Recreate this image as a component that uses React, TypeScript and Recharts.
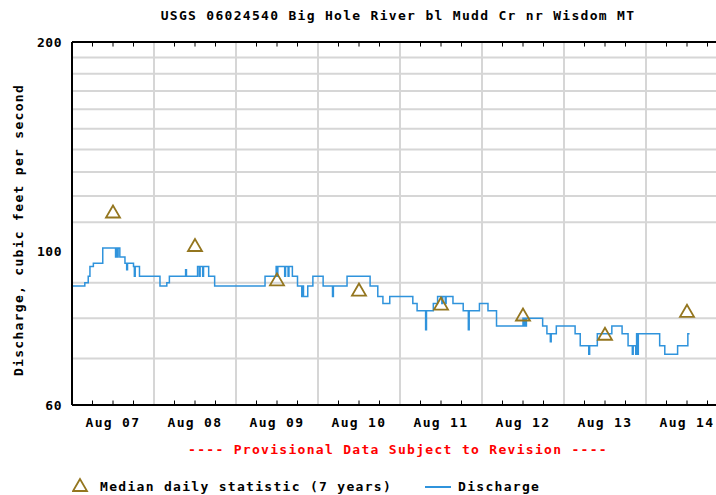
import React from "react";
import {
    ComposedChart,
    Line,
    Scatter,
    XAxis,
    YAxis,
    ReferenceLine,
} from "recharts";

// hours since Aug 07 00:00 where the 15-min discharge changes level (cfs)
const flowHours = [
    0, 3.75, 4.75, 5.25, 6.25, 9, 12.75, 13, 13.25, 13.5, 14, 15.5, 16, 16.25, 18, 18.25, 18.5, 19.75,
    25.75, 27.75, 28.5, 33.25, 33.5, 36.75, 37.25, 37.5, 38.25, 38.5, 40, 41.75,
    56.5, 59.75, 60, 60.25, 62.25, 62.5, 63.25, 63.5, 64.5, 66, 67.25, 67.5, 67.75, 69, 70.5,
    73.5, 76.25, 76.5, 80.5, 87.25, 89.5, 91, 93,
    99.75, 101, 103.5, 103.75, 105.75, 107, 108.25, 108.5, 109.25, 109.5, 111.5, 114.5, 116, 116.25,
    119.25, 121.75, 124.25, 132, 132.25, 132.5, 132.75, 133, 137.75, 139, 140, 140.25, 141.75,
    147.25, 148.75, 151.25, 151.5, 153.75, 158, 161, 162.75, 164, 164.25, 165, 165.25, 165.5, 165.75,
    172, 173.5, 177.25, 180.25, 180.75,
];
const flowValues = [
    89, 90, 92, 95, 96, 101, 98, 101, 98, 101, 98, 96, 94, 96, 95, 92, 95, 92,
    89, 90, 92, 94, 92, 95, 92, 95, 92, 95, 92, 89,
    92, 95, 92, 95, 92, 95, 92, 95, 92, 89, 86, 89, 86, 89, 92,
    89, 86, 89, 92, 89, 86, 84, 86,
    84, 82, 77, 82, 84, 86, 84, 86, 84, 86, 84, 82, 77, 82,
    84, 82, 78, 80, 78, 80, 78, 80, 78, 76, 74, 76, 78,
    76, 73, 71, 73, 76, 78, 76, 73, 71, 73, 71, 76, 71, 76,
    73, 71, 73, 76, 76,
];

const medianHours = [12, 36, 60, 84, 108, 132, 156, 180];
const medianValues = [114, 102, 91, 88, 84, 81, 76, 82];

const dayLabels = ["Aug 07", "Aug 08", "Aug 09", "Aug 10", "Aug 11", "Aug 12", "Aug 13", "Aug 14"];
const dayTicks = [12, 36, 60, 84, 108, 132, 156, 180];
const dayLines = [24, 48, 72, 96, 120, 144, 168];
const minorHours = Array.from({ length: 32 }, (_, i) => i * 6 + 6).filter((h) => h % 24 !== 0);
const yTicks = [60, 100, 200];
const yGrid = [70, 80, 90, 110, 120, 130, 140, 150, 160, 170, 180, 190];

const flowData = flowHours.map((h, i) => ({ hour: h, q: flowValues[i] }));
const medianData = medianHours.map((h, i) => ({ hour: h, median: medianValues[i] }));

const FONT = "'DejaVu Sans Mono', 'Liberation Mono', monospace";
const BLUE = "#2f93dc";
const OLIVE = "#94761f";

const Triangle = (props: any) => {
    const { cx, cy } = props;
    if (cx == null || cy == null) return null;
    return (
        <polygon
            points={`${cx},${cy - 6} ${cx - 7},${cy + 6} ${cx + 7},${cy + 6}`}
            fill="none"
            stroke={OLIVE}
            strokeWidth={1.8}
        />
    );
};

const textStyle: React.CSSProperties = {
    position: "absolute",
    fontFamily: FONT,
    fontWeight: "bold",
    fontSize: 13,
    letterSpacing: 1.3,
    whiteSpace: "nowrap",
    lineHeight: "15px",
};

export default function App() {
    return (
        <div
            style={{
                position: "absolute",
                left: 0,
                top: 0,
                width: 716,
                height: 495,
                overflow: "hidden",
                background: "#fff",
            }}
        >
            <ComposedChart
                width={746}
                height={495}
                margin={{ top: 42, right: 18, bottom: 60, left: 0 }}
                style={{ position: "absolute", left: 0, top: 0 }}
            >
                <XAxis
                    dataKey="hour"
                    type="number"
                    domain={[0, 192]}
                    ticks={dayTicks}
                    tickFormatter={(v: number) => dayLabels[dayTicks.indexOf(v)]}
                    allowDataOverflow
                    height={30}
                    axisLine={{ stroke: "#000", strokeWidth: 2 }}
                    tickLine={false}
                    tickSize={0}
                    tickMargin={13}
                    tick={{ fill: "#000", fontSize: 13, fontFamily: FONT, fontWeight: "bold", letterSpacing: 1.3 }}
                />
                <YAxis
                    type="number"
                    scale="log"
                    domain={[60, 200]}
                    ticks={yTicks}
                    allowDataOverflow
                    width={72}
                    axisLine={{ stroke: "#000", strokeWidth: 2 }}
                    tickLine={false}
                    tickSize={0}
                    tickMargin={10}
                    tick={{ fill: "#000", fontSize: 13, fontFamily: FONT, fontWeight: "bold", letterSpacing: 0.5 }}
                />

                {yGrid.map((v) => (
                    <ReferenceLine key={"y" + v} y={v} stroke="#d6d6d6" strokeWidth={2} />
                ))}
                {dayLines.map((h) => (
                    <ReferenceLine key={"x" + h} x={h} stroke="#d6d6d6" strokeWidth={2} />
                ))}
                <ReferenceLine y={200} stroke="#000" strokeWidth={2} />
                {minorHours.map((h) => (
                    <ReferenceLine
                        key={"tb" + h}
                        segment={[{ x: h, y: 60 }, { x: h, y: 60.9 }]}
                        stroke="#000"
                        strokeWidth={1}
                    />
                ))}
                {minorHours.map((h) => (
                    <ReferenceLine
                        key={"tt" + h}
                        segment={[{ x: h, y: 200 }, { x: h, y: 197 }]}
                        stroke="#000"
                        strokeWidth={1}
                    />
                ))}

                <Line
                    data={flowData}
                    dataKey="q"
                    type="stepAfter"
                    stroke={BLUE}
                    strokeWidth={1.5}
                    dot={false}
                    isAnimationActive={false}
                />
                <Scatter
                    data={medianData}
                    dataKey="median"
                    shape={<Triangle />}
                    isAnimationActive={false}
                />
            </ComposedChart>

            <div style={{ ...textStyle, left: 0, width: 796, top: 8, textAlign: "center", color: "#000" }}>
                USGS 06024540 Big Hole River bl Mudd Cr nr Wisdom MT
            </div>
            <div
                style={{
                    ...textStyle,
                    left: 18,
                    top: 230,
                    transform: "translate(-50%, -50%) rotate(-90deg)",
                    color: "#000",
                }}
            >
                Discharge, cubic feet per second
            </div>
            <div style={{ ...textStyle, left: 0, width: 796, top: 442, textAlign: "center", color: "#ff0000" }}>
                ---- Provisional Data Subject to Revision ----
            </div>

            <svg style={{ position: "absolute", left: 72, top: 476 }} width={20} height={18}>
                <polygon points="8,3 1,15 15,15" fill="none" stroke={OLIVE} strokeWidth={1.8} />
            </svg>
            <div style={{ ...textStyle, left: 100, top: 479, color: "#000" }}>
                Median daily statistic (7 years)
            </div>
            <div style={{ position: "absolute", left: 425, top: 486, width: 26, height: 2, background: BLUE }} />
            <div style={{ ...textStyle, left: 458, top: 479, color: "#000" }}>Discharge</div>
        </div>
    );
}
